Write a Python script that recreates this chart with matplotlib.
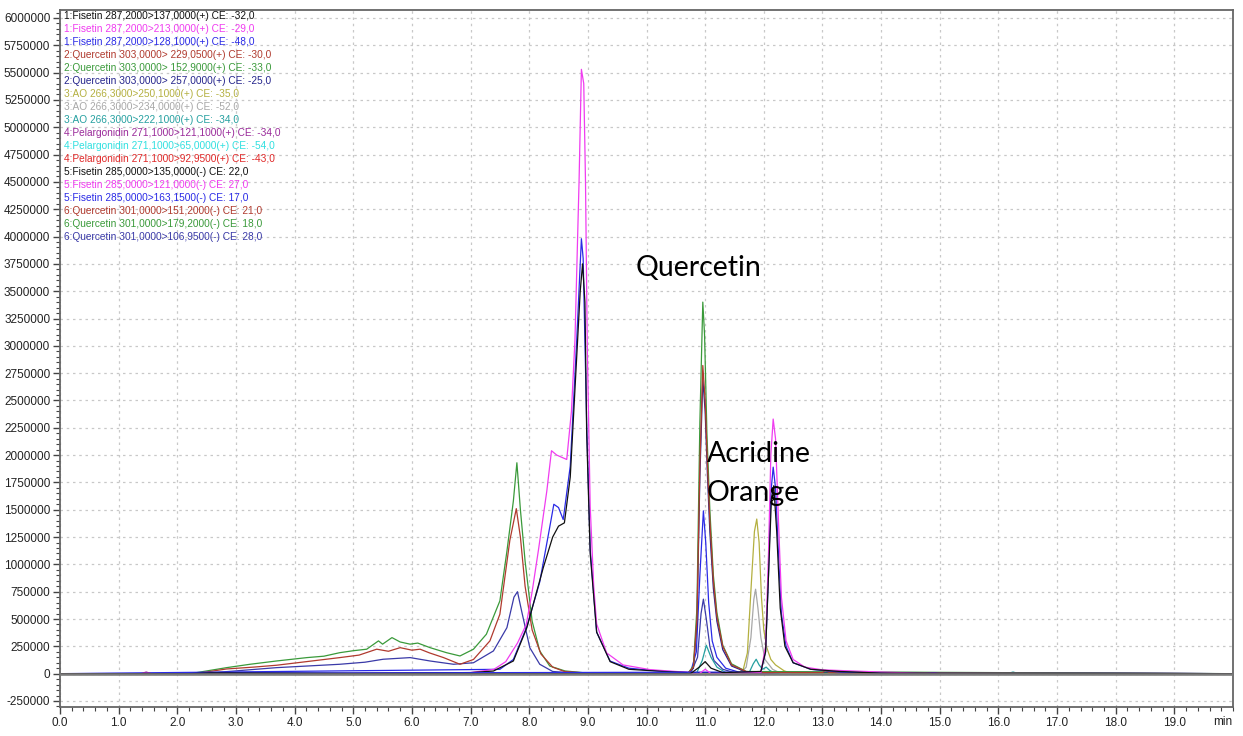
import matplotlib
matplotlib.use('Agg')
import matplotlib.pyplot as plt
from matplotlib.ticker import MultipleLocator, FixedLocator

plt.rcParams['font.family'] = ['Liberation Sans', 'DejaVu Sans']

# 트레이스 데이터 (시간 min, 강도 x1000)
t1 = [0, 10.75, 10.9, 11.0, 11.1, 11.3, 11.95, 12.03, 12.08, 12.13, 12.17, 12.22, 12.28, 12.36, 12.5, 12.8, 13.3, 14.0, 20]
y1 = [0, 0, 60, 110, 50, 10, 20, 200, 900, 1600, 1720, 1300, 600, 250, 100, 40, 20, 5, 0]

t2 = [0, 10.9, 11.0, 11.1, 11.95, 12.03, 12.08, 12.12, 12.16, 12.2, 12.25, 12.3, 12.38, 12.5, 12.7, 13.0, 13.5, 14.0, 14.6, 20]
y2 = [0, 0, 40, 0, 10, 250, 1100, 2000, 2330, 2150, 1400, 700, 300, 130, 60, 35, 25, 15, 5, 0]

t3 = [0, 11.95, 12.03, 12.08, 12.12, 12.16, 12.2, 12.25, 12.3, 12.38, 12.5, 12.8, 13.3, 14.75, 14.9, 15.0, 20]
y3 = [0, 15, 200, 900, 1650, 1890, 1700, 1100, 550, 250, 100, 40, 15, 0, 8, 0, 0]

t4 = [0, 10.7, 10.8, 10.86, 10.91, 10.96, 11.0, 11.04, 11.08, 11.14, 11.2, 11.3, 11.45, 11.7, 12.0, 13.0, 13.05, 13.12, 13.5, 20]
y4 = [0, 0, 60, 500, 1900, 2820, 2500, 1900, 1400, 850, 520, 250, 80, 20, 10, 10, 30, 10, 0, 0]

t5 = [0, 10.7, 10.8, 10.86, 10.91, 10.96, 10.99, 11.03, 11.08, 11.14, 11.2, 11.3, 11.45, 11.7, 20]
y5 = [0, 0, 70, 600, 2300, 3400, 3100, 2200, 1500, 900, 560, 260, 90, 20, 0]

t6 = [0, 10.7, 10.8, 10.86, 10.91, 10.96, 11.0, 11.04, 11.08, 11.14, 11.2, 11.3, 11.45, 11.7, 20]
y6 = [0, 0, 50, 450, 1800, 2700, 2400, 1800, 1300, 780, 480, 220, 70, 15, 0]

t7 = [0, 11.55, 11.65, 11.72, 11.79, 11.84, 11.88, 11.92, 11.96, 12.0, 12.05, 12.12, 12.2, 12.35, 12.5, 20]
y7 = [0, 0, 40, 190, 850, 1300, 1415, 1200, 700, 400, 240, 130, 80, 25, 0, 0]

t8 = [0, 11.6, 11.7, 11.78, 11.83, 11.86, 11.9, 11.95, 12.02, 12.15, 12.3, 20]
y8 = [0, 0, 60, 330, 680, 773, 600, 330, 130, 40, 0, 0]

t9 = [0, 10.85, 10.95, 11.02, 11.1, 11.2, 11.35, 11.75, 11.82, 11.87, 11.92, 11.98, 12.04, 12.1, 12.2, 16.15, 16.25, 16.35, 20]
y9 = [0, 0, 120, 260, 150, 60, 10, 10, 90, 132, 80, 40, 60, 30, 0, 0, 15, 0, 0]

t10 = [0, 1.38, 1.47, 1.56, 20]
y10 = [0, 0, 15, 0, 0]

t11 = [0, 20]
y11 = [0, 0]

t12 = [0, 20]
y12 = [0, 0]

t13 = [0, 2.2, 2.6, 5.0, 7.0, 7.39, 7.73, 7.96, 8.24, 8.4, 8.5, 8.6, 8.7, 8.81, 8.87, 8.91, 8.95, 8.98, 9.04, 9.15, 9.38, 9.7, 10.3, 10.7, 20]
y13 = [0, 0, 10, 5, 10, 24, 116, 421, 970, 1250, 1350, 1380, 1800, 2900, 3500, 3750, 3400, 2200, 1100, 380, 110, 40, 20, 10, 0]

t14 = [0, 4.5, 7.0, 7.4, 7.6, 7.8, 7.95, 8.05, 8.16, 8.3, 8.38, 8.47, 8.64, 8.72, 8.78, 8.85, 8.89, 8.93, 8.96, 8.99, 9.04, 9.1, 9.15, 9.32, 9.6, 10.06, 10.5, 10.8, 20]
y14 = [0, 0, 10, 40, 110, 280, 450, 750, 1140, 1670, 2040, 2000, 1960, 2400, 3050, 4500, 5530, 5400, 4500, 3000, 1530, 800, 455, 190, 80, 37, 20, 10, 0]

t15 = [0, 7.5, 7.73, 7.96, 8.18, 8.35, 8.42, 8.5, 8.58, 8.7, 8.81, 8.89, 8.92, 8.98, 9.04, 9.15, 9.38, 9.7, 10.2, 10.75, 10.85, 10.91, 10.97, 11.01, 11.06, 11.12, 11.2, 11.35, 11.6, 20]
y15 = [0, 40, 130, 430, 840, 1340, 1550, 1520, 1410, 1900, 3050, 3980, 3800, 2290, 1140, 380, 115, 50, 25, 10, 200, 900, 1490, 1200, 650, 300, 150, 50, 10, 0]

t16 = [0, 2.3, 2.84, 3.3, 3.69, 4.2, 4.77, 5.1, 5.4, 5.6, 5.8, 6.0, 6.14, 6.3, 6.54, 6.82, 7.05, 7.33, 7.5, 7.67, 7.78, 7.85, 7.93, 8.05, 8.2, 8.4, 8.6, 9.0, 20]
y16 = [0, 0, 43, 60, 77, 110, 147, 170, 224, 205, 238, 215, 224, 190, 147, 86, 130, 300, 544, 1220, 1510, 1250, 800, 400, 180, 60, 20, 5, 0]

t17 = [0, 2.22, 2.84, 3.24, 3.69, 4.21, 4.5, 4.77, 5.0, 5.23, 5.43, 5.5, 5.66, 5.8, 5.97, 6.1, 6.31, 6.45, 6.59, 6.82, 7.05, 7.27, 7.5, 7.62, 7.73, 7.79, 7.85, 7.93, 8.05, 8.18, 8.35, 8.61, 9.0, 20]
y17 = [0, 0, 55, 86, 116, 147, 160, 192, 210, 224, 300, 270, 330, 290, 270, 280, 238, 215, 192, 162, 224, 361, 666, 1120, 1580, 1930, 1500, 1030, 480, 208, 70, 25, 5, 0]

t18 = [0, 2.4, 3.69, 4.77, 5.2, 5.51, 5.97, 6.31, 6.71, 7.05, 7.39, 7.62, 7.74, 7.8, 7.87, 8.01, 8.18, 8.4, 8.8, 10.75, 10.87, 10.93, 10.97, 11.02, 11.08, 11.15, 11.3, 11.5, 20]
y18 = [0, 0, 55, 86, 105, 132, 147, 116, 86, 100, 208, 421, 700, 750, 575, 238, 86, 20, 5, 0, 150, 550, 682, 500, 250, 120, 40, 10, 0]

labels = [
    '1:Fisetin 287,2000>137,0000(+) CE: -32,0',
    '1:Fisetin 287,2000>213,0000(+) CE: -29,0',
    '1:Fisetin 287,2000>128,1000(+) CE: -48,0',
    '2:Quercetin 303,0000> 229,0500(+) CE: -30,0',
    '2:Quercetin 303,0000> 152,9000(+) CE: -33,0',
    '2:Quercetin 303,0000> 257,0000(+) CE: -25,0',
    '3:AO 266,3000>250,1000(+) CE: -35,0',
    '3:AO 266,3000>234,0000(+) CE: -52,0',
    '3:AO 266,3000>222,1000(+) CE: -34,0',
    '4:Pelargonidin 271,1000>121,1000(+) CE: -34,0',
    '4:Pelargonidin 271,1000>65,0000(+) CE: -54,0',
    '4:Pelargonidin 271,1000>92,9500(+) CE: -43,0',
    '5:Fisetin 285,0000>135,0000(-) CE: 22,0',
    '5:Fisetin 285,0000>121,0000(-) CE: 27,0',
    '5:Fisetin 285,0000>163,1500(-) CE: 17,0',
    '6:Quercetin 301,0000>151,2000(-) CE: 21,0',
    '6:Quercetin 301,0000>179,2000(-) CE: 18,0',
    '6:Quercetin 301,0000>106,9500(-) CE: 28,0',
]
colors = ['#111111', '#f03cf0', '#2a2ae6', '#b03a2e', '#3a9a3a', '#24248c',
          '#b4b040', '#a8a8a8', '#25a0a0', '#9a2a9a', '#30e0e0', '#e02828',
          '#111111', '#f03cf0', '#2a2ae6', '#b03a2e', '#3a9a3a', '#3a3aa8']

times = [t1, t2, t3, t4, t5, t6, t7, t8, t9, t10, t11, t12, t13, t14, t15, t16, t17, t18]
vals = [y1, y2, y3, y4, y5, y6, y7, y8, y9, y10, y11, y12, y13, y14, y15, y16, y17, y18]

W, H = 1243, 736
fig = plt.figure(figsize=(W / 100, H / 100), dpi=100)
ax = fig.add_axes([60 / W, 1 - 707 / H, (1233 - 60) / W, (707 - 10) / H])

# 뒤에서부터 그려서 1번 트레이스가 위로
for i in range(len(times) - 1, -1, -1):
    ax.plot(times[i], [v * 1000 for v in vals[i]], color=colors[i], lw=0.9, zorder=2)

ax.axhline(0, color='#7a7a7a', lw=1.8, zorder=3)

ax.set_xlim(0, 20)
ax.set_ylim(-305000, 6073000)

xt = list(range(0, 20))
ax.xaxis.set_major_locator(FixedLocator(xt))
ax.set_xticklabels([f'{v:.1f}' for v in xt])
ax.xaxis.set_minor_locator(MultipleLocator(0.2))
yt = list(range(-250000, 6000001, 250000))
ax.yaxis.set_major_locator(FixedLocator(yt))
ax.set_yticklabels([str(v) for v in yt])
ax.yaxis.set_minor_locator(MultipleLocator(50000))

ax.tick_params(which='major', length=5, width=1, color='#444444', labelsize=8.5, pad=2, labelcolor='#222222')
ax.tick_params(which='minor', length=3, width=0.8, color='#444444')
ax.grid(True, which='major', linestyle=(0, (2, 3)), color='#c8c8c8', lw=0.9, zorder=0)
for s in ax.spines.values():
    s.set_color('#666666')
    s.set_linewidth(1.3)

fig.text(1223 / W, 1 - 722 / H, 'min', ha='center', va='center', fontsize=8.5, color='#222222')

for i, lab in enumerate(labels):
    fig.text(64 / W, 1 - (16 + 13 * i) / H, lab, ha='left', va='center', fontsize=7.3, color=colors[i])

ax.text(9.82, 3710000, 'Quercetin', fontsize=20.5, family=['Lato', 'DejaVu Sans'], va='center', zorder=5)
ax.text(11.03, 2010000, 'Acridine', fontsize=20.5, family=['Lato', 'DejaVu Sans'], va='center', zorder=5)
ax.text(11.03, 1650000, 'Orange', fontsize=20.5, family=['Lato', 'DejaVu Sans'], va='center', zorder=5)

plt.savefig('out.png', dpi=100)
